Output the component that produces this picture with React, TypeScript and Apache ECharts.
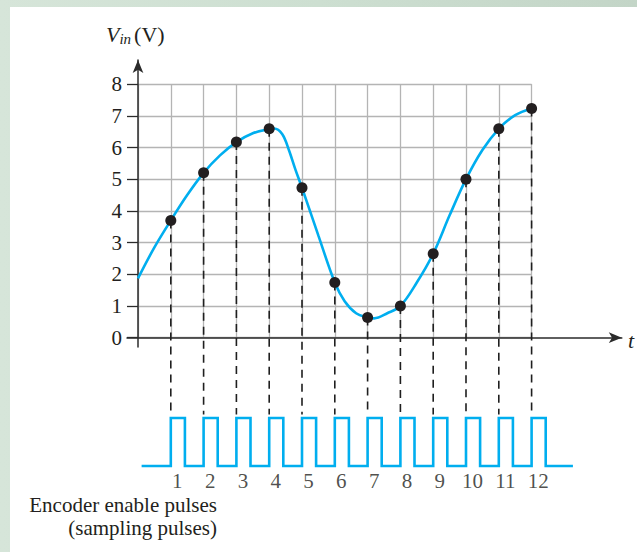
import React, { useEffect, useRef } from "react";
import * as echarts from "echarts";

// ---- data ----
const sampleTimes = [1, 2, 3, 4, 5, 6, 7, 8, 9, 10, 11, 12];
const sampleValues = [3.7, 5.2, 6.17, 6.59, 4.73, 1.74, 0.64, 1.0, 2.65, 5.0, 6.59, 7.23];

const curveTimes = [0, 0.5, 1, 1.5, 2, 2.5, 3, 3.5, 4, 4.15, 4.4, 4.6, 4.8, 5, 5.5, 6, 6.3, 6.65, 7, 7.2, 7.6, 8, 8.5, 9, 9.5, 10, 10.5, 11, 11.5, 12];
const curveValues = [1.87, 2.85, 3.7, 4.5, 5.2, 5.75, 6.17, 6.45, 6.58, 6.6, 6.42, 5.92, 5.3, 4.73, 3.22, 1.74, 1.15, 0.77, 0.64, 0.61, 0.77, 1.0, 1.74, 2.65, 3.86, 5.0, 5.92, 6.59, 7.02, 7.23];

const pulseLabels = ["1", "2", "3", "4", "5", "6", "7", "8", "9", "10", "11", "12"];
const pulseWidth = 0.43;
const pulseTrainStart = 0.11;
const pulseTrainEnd = 13.26;
const dashBottom = -2.42; // level (in V units) where the dashed drop lines meet the pulses

const BLUE = "#00aeef";
const INK = "#231f20";
const SERIF = "'Liberation Serif', 'Times New Roman', serif";

export default function App() {
  const ref = useRef<HTMLDivElement>(null);

  useEffect(() => {
    document.body.style.margin = "0";
    const el = ref.current;
    if (!el) return;
    const chart = echarts.init(el, null, { renderer: "svg" });

    const pulseData: number[][] = [[pulseTrainStart, 0]];
    sampleTimes.forEach((t) => {
      pulseData.push([t, 0], [t, 1], [t + pulseWidth, 1], [t + pulseWidth, 0]);
    });
    pulseData.push([pulseTrainEnd, 0]);

    const sx = 32.8;
    const sy = 31.7;
    const x0 = 138;
    const y0 = 337.7;
    const axXMin = -0.335, axXMax = 14.75, axYMin = -0.29, axYMax = 8.76;

    chart.setOption({
      animation: false,
      grid: [
        { left: x0, top: y0 - 8 * sy, width: 12 * sx, height: 8 * sy },
        { left: x0 + axXMin * sx, top: y0 - axYMax * sy, width: (axXMax - axXMin) * sx, height: (axYMax - axYMin) * sy },
        { left: x0 + axXMin * sx, top: 418, width: (axXMax - axXMin) * sx, height: 48 },
      ],
      xAxis: [
        {
          gridIndex: 0, type: "value", min: 0, max: 12, interval: 1,
          axisLine: { show: false }, axisTick: { show: false }, axisLabel: { show: false },
          splitLine: { show: true, lineStyle: { color: "#b4b4b4", width: 1.3 } },
        },
        {
          gridIndex: 1, type: "value", min: axXMin, max: axXMax,
          axisLine: { show: true, onZero: true, symbol: ["none", "arrow"], symbolSize: [8, 13], lineStyle: { color: "#2b2b2b", width: 1.5 } },
          axisTick: { show: false }, axisLabel: { show: false }, splitLine: { show: false },
        },
        {
          gridIndex: 2, type: "value", min: axXMin, max: axXMax, show: false,
        },
      ],
      yAxis: [
        {
          gridIndex: 0, type: "value", min: 0, max: 8, interval: 1,
          axisLine: { show: false },
          axisTick: { show: true, length: 11, inside: false, lineStyle: { color: "#2b2b2b", width: 1.3 } },
          axisLabel: { show: true, margin: 16, fontFamily: SERIF, fontSize: 21, color: INK },
          splitLine: { show: true, lineStyle: { color: "#b4b4b4", width: 1.3 } },
        },
        {
          gridIndex: 1, type: "value", min: axYMin, max: axYMax,
          axisLine: { show: true, onZero: true, symbol: ["none", "arrow"], symbolSize: [8, 13], lineStyle: { color: "#2b2b2b", width: 1.5 } },
          axisTick: { show: false }, axisLabel: { show: false }, splitLine: { show: false },
        },
        {
          gridIndex: 2, type: "value", min: 0, max: 1, show: false,
        },
      ],
      series: [
        {
          type: "custom",
          xAxisIndex: 0, yAxisIndex: 0,
          clip: false,
          z: 3,
          data: sampleTimes.map((t, i) => [t, sampleValues[i]]),
          renderItem: (params: any, api: any) => {
            const t = api.value(0);
            const v = api.value(1);
            const p1 = api.coord([t, v]);
            const p2 = api.coord([t, dashBottom]);
            return {
              type: "line",
              shape: { x1: p1[0], y1: p1[1], x2: p2[0], y2: p2[1] },
              style: { stroke: "#1f1f1f", lineWidth: 1.6, lineDash: [8, 6] },
            };
          },
        },
        {
          type: "line",
          xAxisIndex: 0, yAxisIndex: 0,
          data: curveTimes.map((t, i) => [t, curveValues[i]]),
          smooth: 0.35,
          showSymbol: false,
          clip: false,
          z: 4,
          lineStyle: { color: BLUE, width: 2.6 },
        },
        {
          type: "scatter",
          xAxisIndex: 0, yAxisIndex: 0,
          data: sampleTimes.map((t, i) => [t, sampleValues[i]]),
          symbolSize: 11,
          z: 5,
          itemStyle: { color: INK, opacity: 1 },
        },
        {
          type: "line",
          xAxisIndex: 2, yAxisIndex: 2,
          data: pulseData,
          showSymbol: false,
          clip: false,
          lineStyle: { color: BLUE, width: 2.6, join: "miter" },
        },
        {
          type: "scatter",
          xAxisIndex: 2, yAxisIndex: 2,
          data: sampleTimes.map((t, i) => ({ value: [t + 0.2, 0], name: pulseLabels[i] })),
          symbolSize: 1,
          itemStyle: { color: "rgba(0,0,0,0)" },
          label: {
            show: true,
            position: "inside",
            offset: [0, 15],
            formatter: (p: any) => p.name,
            fontFamily: SERIF,
            fontSize: 21,
            color: INK,
          },
        },
      ],
      graphic: [
        {
          type: "text",
          x: 106,
          y: 34,
          style: {
            text: "{v|V}{s|in}{n|(V)}",
            verticalAlign: "middle",
            rich: {
              v: { fontFamily: SERIF, fontSize: 22, fontStyle: "italic", fill: INK },
              s: { fontFamily: SERIF, fontSize: 15, fontStyle: "italic", fill: INK, padding: [10, 0, 0, 0] },
              n: { fontFamily: SERIF, fontSize: 22, fill: INK, padding: [0, 0, 0, 3] },
            },
          },
        },
        {
          type: "text",
          x: 628,
          y: 340,
          style: { text: "t", fontFamily: SERIF, fontSize: 22, fontStyle: "italic", fill: INK, verticalAlign: "middle" },
        },
        {
          type: "text",
          x: 217,
          y: 505,
          style: { text: "Encoder enable pulses", fontFamily: SERIF, fontSize: 21, fill: INK, align: "right", verticalAlign: "middle" },
        },
        {
          type: "text",
          x: 217,
          y: 528,
          style: { text: "(sampling pulses)", fontFamily: SERIF, fontSize: 21, fill: INK, align: "right", verticalAlign: "middle" },
        },
      ],
    });

    return () => chart.dispose();
  }, []);

  return (
    <div style={{ position: "relative", width: 637, height: 552, background: "linear-gradient(90deg, #d6e5d9 0%, #cddfd1 50%, #c3d5c7 100%)", overflow: "hidden" }}>
      <div style={{ position: "absolute", left: 10, top: 7, right: 0, bottom: 0, background: "#ffffff" }} />
      <div ref={ref} style={{ position: "absolute", left: 0, top: 0, width: 637, height: 552 }} />
    </div>
  );
}
